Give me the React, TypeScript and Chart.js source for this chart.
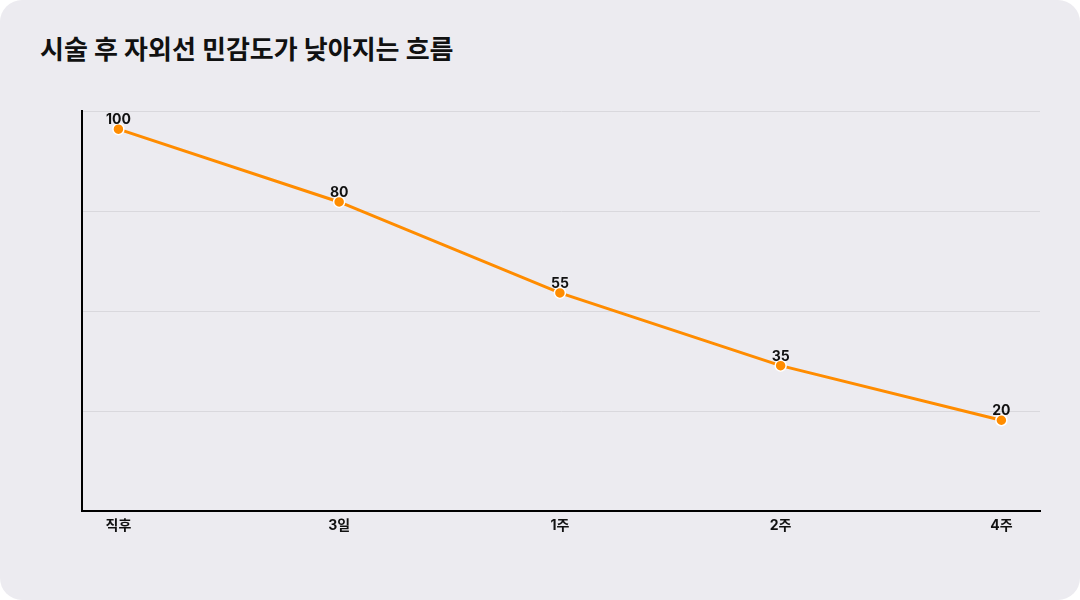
import React, { useEffect, useRef } from "react";
import { Chart, registerables } from "chart.js";

Chart.register(...registerables);

const title = "시술 후 자외선 민감도가 낮아지는 흐름";
const labels = ["직후", "3일", "1주", "2주", "4주"];
const values = [100, 80, 55, 35, 20];

const FONT = "Inter, 'Noto Sans CJK KR', 'Noto Sans', sans-serif";

// draw the value above each point
const valueLabels = {
  id: "valueLabels",
  afterDatasetsDraw(chart: any) {
    const { ctx } = chart;
    const meta = chart.getDatasetMeta(0);
    ctx.save();
    ctx.font = `bold 14px ${FONT}`;
    ctx.fillStyle = "#111111";
    ctx.textAlign = "center";
    ctx.textBaseline = "bottom";
    meta.data.forEach((pt: any, i: number) => {
      ctx.fillText(String(values[i]), pt.x, pt.y - 2);
    });
    ctx.restore();
  },
};

const LineChart: React.FC = () => {
  const chartRef = useRef<HTMLCanvasElement | null>(null);

  useEffect(() => {
    if (!chartRef.current) return;
    const chart = new Chart(chartRef.current, {
      type: "line",
      data: {
        datasets: [
          {
            data: values.map((v, i) => ({ x: i, y: v })),
            borderColor: "#FF8C00",
            borderWidth: 3,
            backgroundColor: "#FF8C00",
            pointRadius: 5.5,
            pointBorderColor: "#ffffff",
            pointBorderWidth: 1.5,
            pointBackgroundColor: "#FF8C00",
            tension: 0,
          },
        ],
      },
      options: {
        responsive: false,
        animation: false,
        plugins: {
          legend: { display: false },
          tooltip: { enabled: false },
          title: { display: false },
        },
        scales: {
          x: {
            type: "linear",
            min: -0.165,
            max: 4.175,
            afterBuildTicks: (axis: any) => {
              axis.ticks = labels.map((_, i) => ({ value: i }));
            },
            ticks: {
              callback: (v: any) => labels[v as number] ?? "",
              color: "#111111",
              font: { family: FONT, size: 14, weight: "bold" },
              padding: 6,
              maxRotation: 0,
            },
            grid: { display: false, drawTicks: false },
            border: { display: true, color: "#000000", width: 2 },
          },
          y: {
            min: -5,
            max: 105,
            ticks: { display: false, stepSize: 27.5 },
            grid: { color: "#D9D8DD", lineWidth: 1, drawTicks: false },
            border: { display: true, color: "#000000", width: 2 },
          },
        },
      },
      plugins: [valueLabels],
    });
    return () => {
      chart.destroy();
    };
  }, []);

  return <canvas ref={chartRef} width={972} height={436} />;
};

export default function App() {
  return (
    <div
      style={{
        position: "fixed",
        left: 0,
        top: 0,
        width: 1080,
        height: 600,
        background: "#ffffff",
      }}
    >
      <div
        style={{
          position: "absolute",
          left: 0,
          top: 0,
          width: 1080,
          height: 600,
          borderRadius: 22,
          background: "#ECEBF0",
        }}
      >
        <div
          style={{
            position: "absolute",
            left: 40,
            top: 29,
            fontFamily: FONT,
            fontWeight: 700,
            fontSize: 26,
            color: "#111111",
          }}
        >
          {title}
        </div>
        <div style={{ position: "absolute", left: 75, top: 104 }}>
          <LineChart />
        </div>
      </div>
    </div>
  );
}
